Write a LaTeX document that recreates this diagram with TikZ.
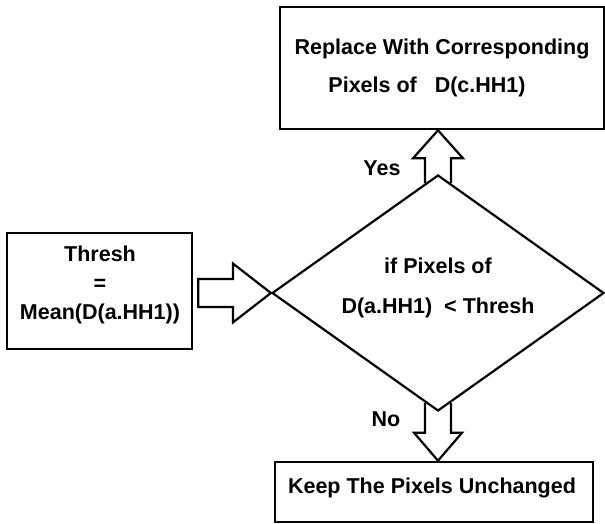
\documentclass[tikz,border=0pt]{standalone}
\usepackage{fontspec}
\setmainfont{Liberation Sans}
\usetikzlibrary{shapes.geometric,calc}
\begin{document}
\begin{tikzpicture}[x=1pt,y=-1pt,
  box/.style={draw, line width=2.6pt, inner sep=0pt, align=center, font=\fontsize{21.5}{29}\selectfont\bfseries},
  txt/.style={inner sep=0pt, align=center, font=\fontsize{21.5}{29}\selectfont\bfseries},
  blockarrow/.style={draw, line width=2.2pt, line join=miter},
  decision/.style={draw, diamond, line width=2.2pt, inner sep=0pt, minimum width=332pt, minimum height=236pt}]
\fill[white] (0,0) rectangle (605,524);
\useasboundingbox (0,0) rectangle (605,524);
\node[box, minimum width=324pt, minimum height=122pt] (top) at (442,68) {Replace With Corresponding\\[9pt]Pixels of\ \ \ D(c.HH1)\hspace*{30pt}};
\node[box, minimum width=185pt, minimum height=116pt] (thresh) at (99.5,291) {};
\node[txt] (threshtext) at (100,285) {Thresh\\=\\Mean(D(a.HH1))};
\node[decision] (dec) at (438,293) {};
\node[txt] (dectext) at (438,288) {if Pixels of\\[11pt]D(a.HH1)\ \ < Thresh};
\node[box, minimum width=318pt, minimum height=60pt] (keep) at (434,492) {};
\node[txt] (keeptext) at (432,488) {Keep The Pixels Unchanged};
% Yes arrow
\draw[blockarrow] ($(dec.north)+(-13,9.2)$) |- ($(dec.north |- top.south)+(-25,28)$) -- (dec.north |- top.south) -- ($(dec.north |- top.south)+(25,28)$) -| ($(dec.north)+(13,9.2)$);
% No arrow
\draw[blockarrow] ($(dec.south)+(-13,-9.2)$) |- ($(dec.south |- keep.north)+(-24,-28)$) -- (dec.south |- keep.north) -- ($(dec.south |- keep.north)+(24,-28)$) -| ($(dec.south)+(13,-9.2)$);
% Right arrow
\draw[blockarrow] ($(thresh.east |- dec.west)+(5,-14)$) -- ($(dec.west)+(-38,-14)$) -- ($(dec.west)+(-38,-29.5)$) -- (dec.west) -- ($(dec.west)+(-38,29.5)$) -- ($(dec.west)+(-38,14)$) -- ($(thresh.east |- dec.west)+(5,14)$) -- cycle;
\node[txt] (yes) at (382,168) {Yes};
\node[txt] (no) at (386,419) {No};
\end{tikzpicture}
\end{document}
